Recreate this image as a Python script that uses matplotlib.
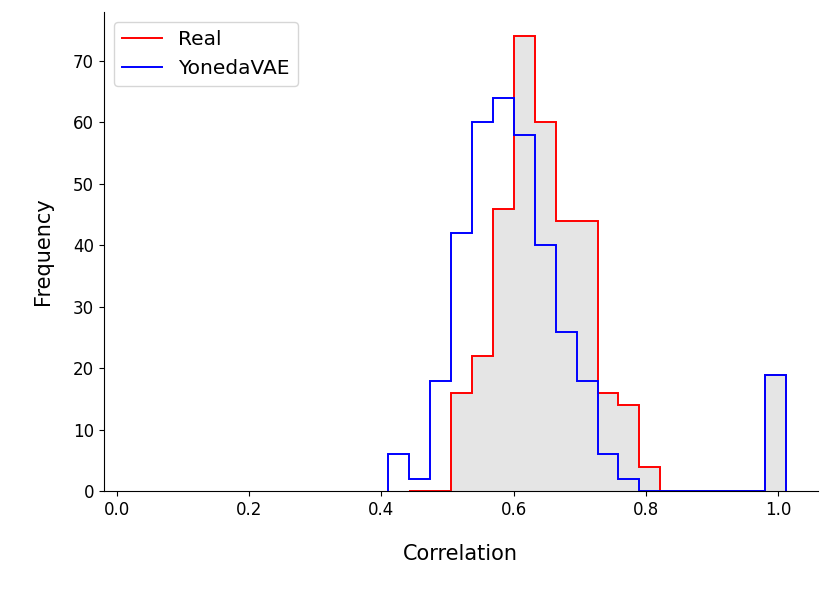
import numpy as np
import matplotlib.pyplot as plt

# histogram bin edges (shared by both series)
edges = np.linspace(0.41, 1.0125, 20)
real_counts = [0, 0, 16, 22, 46, 74, 60, 44, 44, 16, 14, 4, 0, 0, 0, 0, 0, 19]
yoneda_counts = [6, 2, 18, 42, 60, 64, 58, 40, 26, 18, 6, 2, 0, 0, 0, 0, 0, 0, 19]

fig = plt.figure(figsize=(8.3, 5.92), dpi=100)
ax = fig.add_subplot(111)

ax.stairs(real_counts, edges[1:], fill=True, color='#e5e5e5')
ax.stairs(real_counts, edges[1:], color='red', linewidth=1.4, label='Real')
ax.stairs(yoneda_counts, edges, color='blue', linewidth=1.4, label='YonedaVAE')

ax.set_xlim(-0.02, 1.06)
ax.set_ylim(0, 78)
ax.set_xticks([0.0, 0.2, 0.4, 0.6, 0.8, 1.0])
ax.tick_params(labelsize=12)
ax.set_xlabel('Correlation', fontsize=15, labelpad=18)
ax.set_ylabel('Frequency', fontsize=15, labelpad=14)
ax.spines['top'].set_visible(False)
ax.spines['right'].set_visible(False)
ax.legend(loc='upper left', fontsize=14.5)

fig.subplots_adjust(left=0.125, right=0.985, top=0.98, bottom=0.17)
fig.savefig('out.png')
